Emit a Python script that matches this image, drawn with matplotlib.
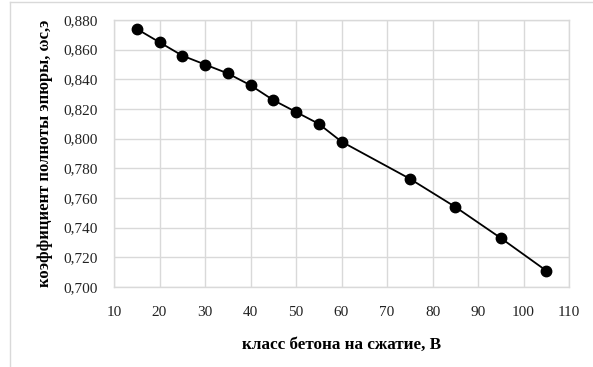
import matplotlib
matplotlib.use("Agg")
import matplotlib.pyplot as plt
from matplotlib.ticker import FuncFormatter, MultipleLocator
from matplotlib.lines import Line2D

concrete_class = [15, 20, 25, 30, 35, 40, 45, 50, 55, 60, 75, 85, 95, 105]
omega = [0.874, 0.865, 0.856, 0.850, 0.844, 0.836, 0.826, 0.818, 0.810,
         0.798, 0.773, 0.754, 0.733, 0.711]

plt.rcParams['font.family'] = ['Liberation Serif', 'DejaVu Serif']

W, H = 593, 367
fig = plt.figure(figsize=(W / 100, H / 100), dpi=100)
ax = fig.add_axes([114 / W, 1 - 287 / H, (569 - 114) / W, (287 - 20) / H])

ax.plot(concrete_class, omega, color='black', lw=1.3, marker='o',
        markersize=7.5, zorder=3, clip_on=False)

ax.set_xlim(10, 110)
ax.set_ylim(0.700, 0.880)
ax.xaxis.set_major_locator(MultipleLocator(10))
ax.yaxis.set_major_locator(MultipleLocator(0.02))
ax.yaxis.set_major_formatter(FuncFormatter(lambda v, p: f"{v:.3f}".replace('.', ',')))

ax.grid(True, color='#d9d9d9', lw=1)
ax.set_axisbelow(True)
for s in ax.spines.values():
    s.set_color('#d9d9d9')
    s.set_linewidth(1)
ax.tick_params(length=0, colors='#222222')
ax.tick_params(axis='x', pad=14, labelsize=11)
ax.tick_params(axis='y', pad=11.5, labelsize=11)

ax.set_xlabel('класс бетона на сжатие, В', fontsize=12.3, fontweight='bold', labelpad=12.5)
ax.set_ylabel('коэффициент полноты эпюры, ωс,э', fontsize=12, fontweight='bold', labelpad=8)

fig.add_artist(Line2D([10 / W, 1], [1 - 1.5 / H, 1 - 1.5 / H], transform=fig.transFigure,
                      color='#d9d9d9', lw=1))
fig.add_artist(Line2D([9.5 / W, 9.5 / W], [0, 1 - 1.5 / H], transform=fig.transFigure,
                      color='#d9d9d9', lw=1))

fig.savefig('out.png', dpi=100)
